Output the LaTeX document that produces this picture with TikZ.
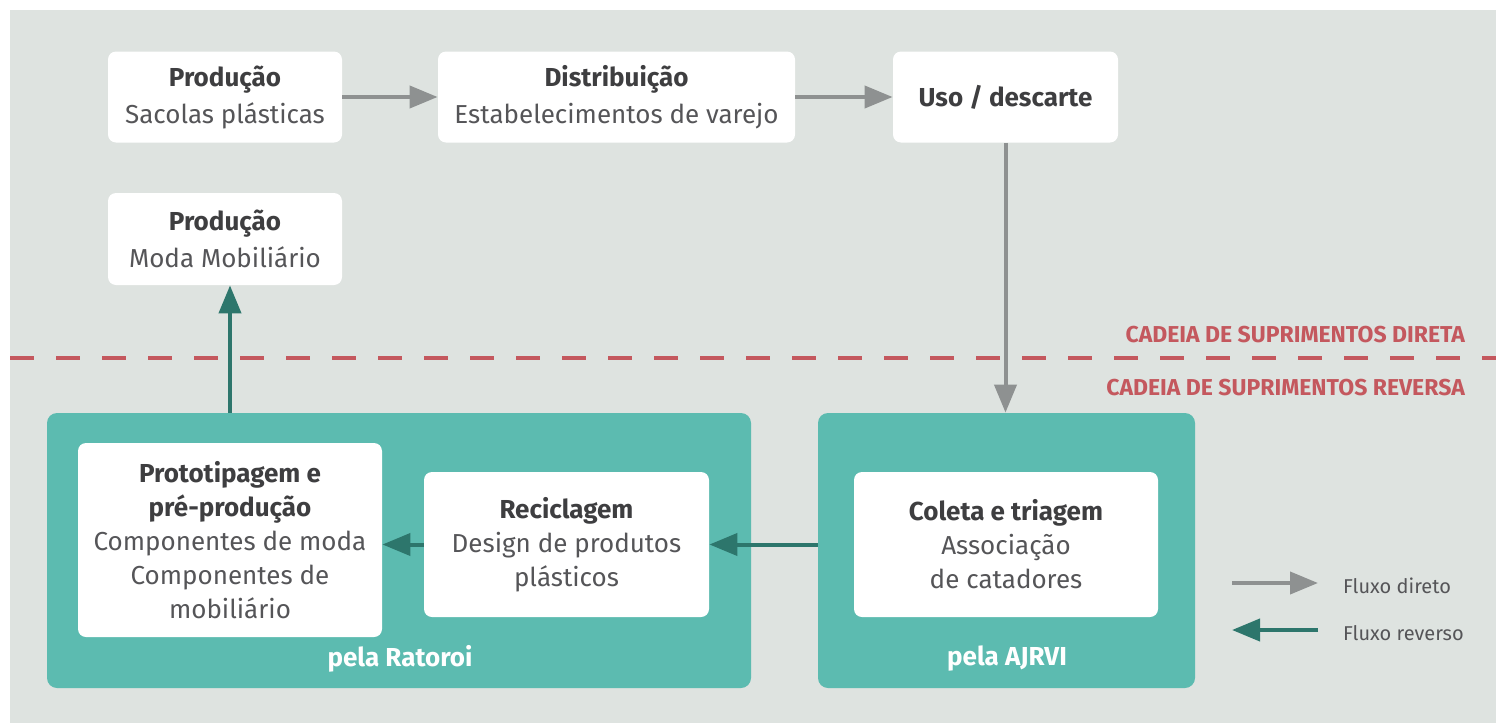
\documentclass[tikz,border=0pt]{standalone}
\usepackage{fontspec}
\setmainfont{Fira Sans}
\usetikzlibrary{arrows.meta}

\definecolor{fundo}{RGB}{222,227,224}
\definecolor{cinza}{RGB}{142,145,145}
\definecolor{verdeclaro}{RGB}{92,187,176}
\definecolor{verdeescuro}{RGB}{45,118,108}
\definecolor{vermelho}{RGB}{196,88,94}
\definecolor{titulo}{RGB}{62,62,64}
\definecolor{corpo}{RGB}{85,85,88}

\tikzset{
  etapa/.style={fill=white, rounded corners=4pt, align=center, inner sep=0pt,
    text=corpo, font=\fontsize{13}{17}\selectfont},
  topo/.style={etapa, font=\fontsize{13}{18.5}\selectfont},
  grupo/.style={fill=verdeclaro, rounded corners=5pt, inner sep=0pt},
  rotulo/.style={text=white, font=\fontsize{13}{15}\selectfont\bfseries},
  cadeia/.style={text=vermelho, font=\fontsize{11.5}{13}\selectfont\bfseries, anchor=east},
  legenda/.style={text=corpo, font=\fontsize{10}{12}\selectfont, anchor=west},
  direto/.style={draw=cinza, line width=2pt, -{Triangle[length=14pt,width=11pt]}},
  reverso/.style={draw=verdeescuro, line width=2pt, -{Triangle[length=14pt,width=11pt]}},
}
\newcommand{\tit}[1]{{\bfseries\color{titulo}#1}}

\begin{document}
\begin{tikzpicture}[x=0.5pt,y=-0.5pt]
  \useasboundingbox (0,0) rectangle (1496,723);
  \fill[fundo] (10,10) rectangle (1496,723);

  % cadeia direta
  \node[topo, minimum width=117pt, minimum height=45.5pt] (prodsac) at (225,97)
    {\tit{Produção}\\Sacolas plásticas};
  \node[topo, minimum width=178.5pt, minimum height=45.5pt] (distr) at (616.5,97)
    {\tit{Distribuição}\\Estabelecimentos de varejo};
  \node[topo, minimum width=112.5pt, minimum height=45.5pt] (uso) at (1005.5,97)
    {\tit{Uso / descarte}};
  \node[topo, minimum width=117pt, minimum height=46pt] (prodmoda) at (225,239)
    {\tit{Produção}\\Moda Mobiliário};

  % divisao
  \coordinate (divesq) at (10,358);
  \coordinate (divdir) at (1496,358);
  \draw[vermelho, line width=1.75pt, dash pattern=on 12pt off 11pt] (divesq) -- (divdir);
  \node[cadeia] (direta) at (1472,335) {CADEIA DE SUPRIMENTOS DIRETA};
  \node[cadeia] (reversa) at (1472,388) {CADEIA DE SUPRIMENTOS REVERSA};

  % cadeia reversa
  \node[grupo, minimum width=352pt, minimum height=137.5pt] (ratoroi) at (399,550.5) {};
  \node[grupo, minimum width=188.5pt, minimum height=137.5pt] (ajrvi) at (1006.5,550.5) {};
  \node[rotulo] (pelarat) at (400,659) {pela Ratoroi};
  \node[rotulo] (pelaaj) at (1007,659) {pela AJRVI};

  \node[etapa, minimum width=152pt, minimum height=97pt] (proto) at (230,540)
    {\tit{Prototipagem e}\\\tit{pré-produção}\\Componentes de moda\\Componentes de\\mobiliário};
  \node[etapa, minimum width=142.5pt, minimum height=72.5pt] (recic) at (566.5,544.5)
    {\tit{Reciclagem}\\Design de produtos\\plásticos};
  \node[etapa, minimum width=152pt, minimum height=72.5pt] (coleta) at (1006,544.5)
    {\tit{Coleta e triagem}\\Associação\\de catadores};

  % fluxos
  \draw[direto] (prodsac) -- (distr);
  \draw[direto] (distr) -- (uso);
  \draw[direto] (uso.south) -- (uso.south |- ajrvi.north);
  \draw[reverso] (ajrvi.west |- recic.east) -- (recic.east);
  \draw[reverso] (recic.west) -- (recic.west -| proto.east);
  \draw[reverso] (ratoroi.north -| proto.north) -- (prodmoda.south -| proto.north);

  % legenda
  \coordinate (ld1) at (1232,583);
  \coordinate (ld2) at (1318,583);
  \coordinate (lr1) at (1318,630);
  \coordinate (lr2) at (1232,630);
  \draw[direto] (ld1) -- (ld2);
  \draw[reverso] (lr1) -- (lr2);
  \node[legenda] (txtdir) at (1336,586) {Fluxo direto};
  \node[legenda] (txtrev) at (1336,633) {Fluxo reverso};
\end{tikzpicture}
\end{document}
